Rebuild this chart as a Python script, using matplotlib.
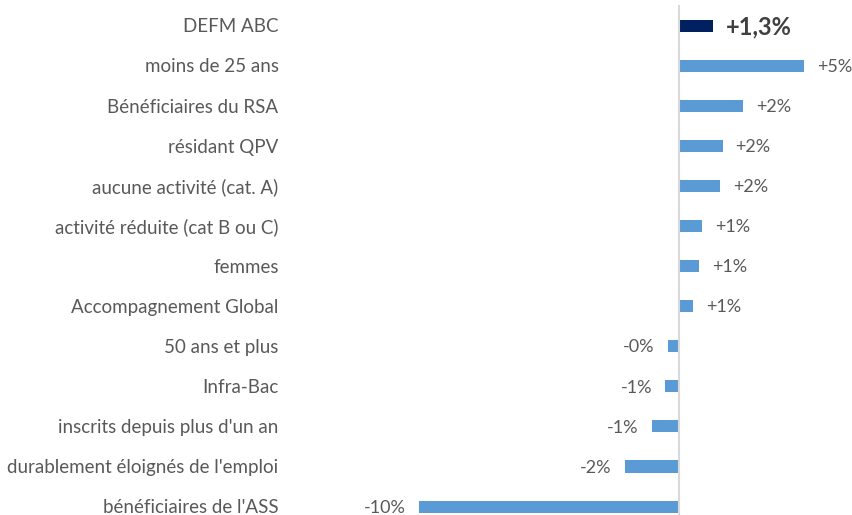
import matplotlib.pyplot as plt

categories = ["DEFM ABC", "moins de 25 ans", "Bénéficiaires du RSA", "résidant QPV",
              "aucune activité (cat. A)", "activité réduite (cat B ou C)", "femmes",
              "Accompagnement Global", "50 ans et plus", "Infra-Bac",
              "inscrits depuis plus d'un an", "durablement éloignés de l'emploi",
              "bénéficiaires de l'ASS"]
values = [1.3, 4.8, 2.45, 1.68, 1.58, 0.88, 0.77, 0.53, -0.43, -0.53, -1.05, -2.08, -9.99]
labels = ["+1,3%", "+5%", "+2%", "+2%", "+2%", "+1%", "+1%", "+1%",
          "-0%", "-1%", "-1%", "-2%", "-10%"]

DARK = '#002060'
BLUE = '#5B9BD5'
TEXT = '#595959'

plt.rcParams['font.family'] = ['Lato', 'DejaVu Sans']

fig = plt.figure(figsize=(8.52, 5.15), dpi=100)
ax = fig.add_axes([290 / 852, 0, 560 / 852, 510 / 515])

pos = list(range(len(categories)))
colors = [DARK] + [BLUE] * (len(categories) - 1)
ax.barh(pos, values, height=0.3, color=colors)

ax.set_xlim(-14.96, 6.58)
ax.set_ylim(12.21, -0.516)
ax.axvline(0, color='#d9d9d9', linewidth=1.5)

off = 0.5
for i, (v, lab) in enumerate(zip(values, labels)):
    if i == 0:
        ax.text(v + off, i + 0.03, lab, ha='left', va='center', fontsize=17,
                fontweight='bold', color='#404040')
    elif v >= 0:
        ax.text(v + off, i + 0.03, lab, ha='left', va='center', fontsize=13, color=TEXT)
    else:
        ax.text(v - off, i + 0.03, lab, ha='right', va='center', fontsize=13, color=TEXT)

for i, c in enumerate(categories):
    ax.text(-15.4, i + 0.03, c, ha='right', va='center', fontsize=13.5, color=TEXT,
            clip_on=False)

ax.set_xticks([])
ax.set_yticks([])
for s in ax.spines.values():
    s.set_visible(False)

plt.savefig('out.png', dpi=100)
